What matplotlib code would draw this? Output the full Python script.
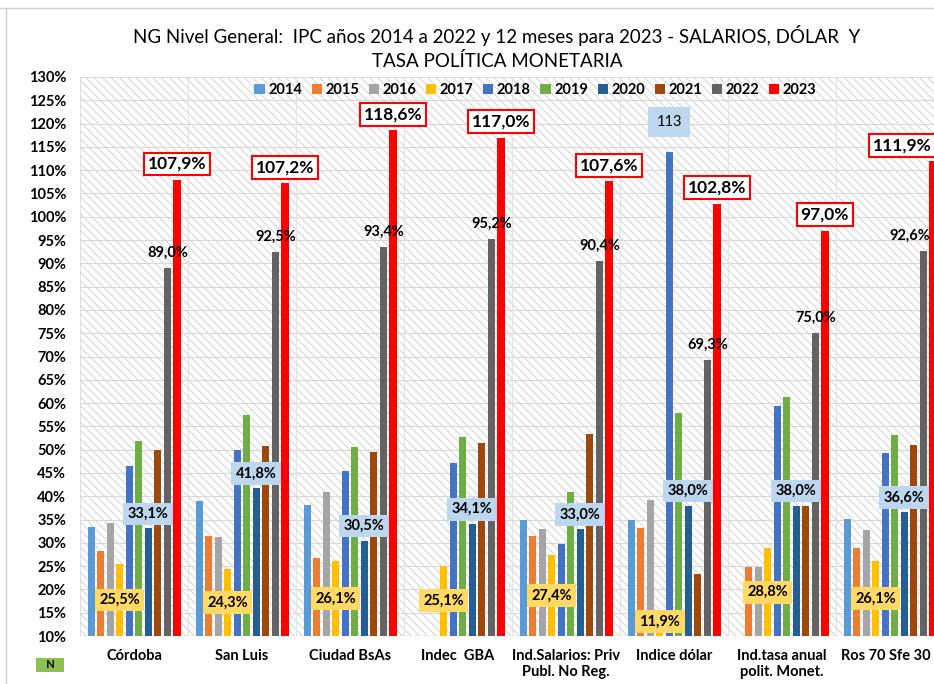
import numpy as np
import matplotlib
matplotlib.use('Agg')
import matplotlib.pyplot as plt
from matplotlib.patches import Rectangle
from matplotlib.lines import Line2D

plt.rcParams['font.family'] = ['Lato', 'DejaVu Sans']
plt.rcParams['hatch.linewidth'] = 0.7
plt.rcParams['hatch.color'] = '#d2d2d2'

# Data
categories = ['Córdoba', 'San Luis', 'Ciudad BsAs', 'Indec  GBA',
              'Ind.Salarios: Priv\nPubl. No Reg.', 'Indice dólar',
              'Ind.tasa anual\npolit. Monet.', 'Ros 70 Sfe 30']
years = ['2014', '2015', '2016', '2017', '2018', '2019', '2020', '2021', '2022', '2023']
nan = np.nan
v2014 = [33.3, 38.9, 38.1, nan, 34.9, 34.9, nan, 35.2]
v2015 = [28.2, 31.5, 26.8, nan, 31.4, 33.1, 24.9, 28.8]
v2016 = [34.3, 31.3, 41.0, nan, 33.0, 39.1, 24.8, 32.8]
v2017 = [25.5, 24.3, 26.1, 25.1, 27.4, 11.9, 28.8, 26.1]
v2018 = [46.6, 50.0, 45.4, 47.1, 29.7, 113.8, 59.4, 49.2]
v2019 = [51.8, 57.5, 50.5, 52.8, 40.9, 57.9, 61.3, 53.1]
v2020 = [33.1, 41.8, 30.5, 34.1, 33.0, 38.0, 38.0, 36.6]
v2021 = [49.9, 50.7, 49.4, 51.4, 53.3, 23.3, 37.9, 51.1]
v2022 = [89.0, 92.5, 93.4, 95.2, 90.4, 69.3, 75.0, 92.6]
v2023 = [107.9, 107.2, 118.6, 117.0, 107.6, 102.8, 97.0, 111.9]
series = [v2014, v2015, v2016, v2017, v2018, v2019, v2020, v2021, v2022, v2023]
colors = ['#5B9BD5', '#ED7D31', '#A5A5A5', '#FFC000', '#4472C4',
          '#70AD47', '#255E91', '#9E480E', '#636363', '#FF0000']


def pct(v):
    return ('%.1f' % v).replace('.', ',') + '%'


fig = plt.figure(figsize=(9.34, 6.84), dpi=100)
ax = fig.add_axes([80/934, 48/684, 864/934, 559/684])
ax.set_xlim(-0.5, 7.5)
ax.set_ylim(10, 130)

# hatched background
bg = Rectangle((0, 0), 1, 1, transform=ax.transAxes, facecolor='white',
               edgecolor='#d2d2d2', hatch='\\\\\\\\', lw=0.5, zorder=0)
ax.add_patch(bg)
ax.set_facecolor('white')

x = np.arange(len(categories))
step = 0.0882
width = 0.066
for j, (vals, c) in enumerate(zip(series, colors)):
    w = width * 1.15 if j == 9 else width
    ax.bar(x + (j - 4.5) * step, vals, w, bottom=0, color=c, label=years[j], zorder=3)

# grid
for yv in range(15, 131, 5):
    ax.axhline(yv, color='#d9d9d9', lw=0.8, zorder=1)
for xv in np.arange(0.5, 7.5, 1):
    ax.axvline(xv, color='#e3e3e3', lw=0.8, zorder=1)
for s in ax.spines.values():
    s.set_visible(False)
ax.axhline(10, color='#d0d0d0', lw=1, zorder=2)

ax.set_yticks(range(10, 131, 5))
ax.set_yticklabels(['%d%%' % t for t in range(10, 131, 5)], fontsize=10.5, fontweight='bold')
ax.set_xticks(x)
ax.set_xticklabels([])
ax.tick_params(axis='y', length=0, pad=10)
ax.tick_params(axis='x', length=0)

# category labels (last one nudged left to stay inside the figure)
for i, cat in enumerate(categories):
    dx = -3 if i == len(categories) - 1 else 0
    ax.annotate(cat, (x[i], 0), xycoords=('data', 'axes fraction'), xytext=(dx, -9),
                textcoords='offset points', ha='center', va='top', fontsize=10.5,
                fontweight='bold', annotation_clip=False)

# labels
for i in range(len(categories)):
    dx23 = -22 if i == len(categories) - 1 else 0
    dx22 = -10 if i == len(categories) - 1 else 0
    # 2023
    ax.annotate(pct(v2023[i]), (x[i] + 4.5 * step, v2023[i]), xytext=(dx23, 11.5),
                textcoords='offset points', ha='center', va='center',
                fontsize=12.5, fontweight='bold', zorder=6,
                bbox=dict(boxstyle='square,pad=0.2', fc='white', ec='#FF0000', lw=1.5))
    # 2022
    ax.annotate(pct(v2022[i]), (x[i] + 3.5 * step, v2022[i]), xytext=(dx22, 11),
                textcoords='offset points', ha='center', va='center',
                fontsize=10.5, fontweight='bold', zorder=6)
    # 2020
    ax.annotate(pct(v2020[i]), (x[i] + 1.5 * step, v2020[i]), xytext=(0, 10.4),
                textcoords='offset points', ha='center', va='center',
                fontsize=10.5, fontweight='bold', zorder=6,
                bbox=dict(boxstyle='square,pad=0.3', fc='#BDD7EE', ec='none'))
    # 2017
    ly = max(0.5 * v2017[i] + 5, 13.1)
    ax.text(x[i] - 1.5 * step, ly, pct(v2017[i]), ha='center', va='center',
            fontsize=10.5, fontweight='bold', zorder=6,
            bbox=dict(boxstyle='square,pad=0.3', fc='#FFD966', ec='none'))

# 2018 dólar label
ax.annotate('113', (x[5] - 0.5 * step, v2018[5]), xytext=(0, 22),
            textcoords='offset points', ha='center', va='center', fontsize=10.5,
            zorder=6, bbox=dict(boxstyle='square,pad=0.55', fc='#BDD7EE', ec='none'))

leg = ax.legend(loc='upper center', bbox_to_anchor=(0.527, 1.013), ncol=10, frameon=False,
                handlelength=0.7, handleheight=0.7, handletextpad=0.25,
                columnspacing=0.65, prop={'weight': 'bold', 'size': 10.5})

fig.text(0.532, 1 - 36/684, 'NG Nivel General:  IPC años 2014 a 2022 y 12 meses para 2023 - SALARIOS, DÓLAR  Y',
         ha='center', va='center', fontsize=13.5)
fig.text(0.532, 1 - 61/684, 'TASA POLÍTICA MONETARIA', ha='center', va='center', fontsize=13.5)

fig.text(50/934, 1 - 665/684, '   N   ', ha='center', va='center', fontsize=8, fontweight='bold',
         bbox=dict(boxstyle='square,pad=0.15', fc='#8CC152', ec='none'))

fig.add_artist(Line2D([0, 1], [1 - 8/684, 1 - 8/684], color='#d0d0d0', lw=1))
fig.add_artist(Line2D([6/934, 6/934], [0, 1 - 8/684], color='#d0d0d0', lw=1))

fig.savefig('out.png', dpi=100)
